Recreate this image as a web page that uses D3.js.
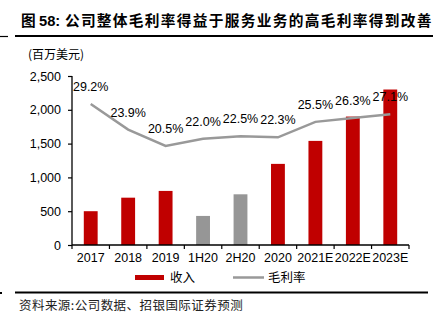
<!DOCTYPE html>
<html><head><meta charset="utf-8">
<script src="https://cdn.jsdelivr.net/npm/d3@7"></script>
<style>body{margin:0;background:#fff}svg{display:block}</style>
</head><body>
<svg id="c" width="439" height="329"></svg>
<script>
const categories = ["2017","2018","2019","1H20","2H20","2020","2021E","2022E","2023E"];
const revenue = [500, 700, 800, 430, 750, 1200, 1540, 1900, 2300];
const margin = [0.292, 0.239, 0.205, 0.220, 0.225, 0.223, 0.255, 0.263, 0.271];
const marginLabels = ["29.2%","23.9%","20.5%","22.0%","22.5%","22.3%","25.5%","26.3%","27.1%"];
const halfYear = ["1H20","2H20"];
const yTicks = [0, 500, 1000, 1500, 2000, 2500];
const title = "图 58: 公司整体毛利率得益于服务业务的高毛利率得到改善";
const unitLabel = "(百万美元)";
const legendLabels = ["收入", "毛利率"];
const source = "资料来源:公司数据、招银国际证券预测";

const svg = d3.select("#c");
const NUM = "'Liberation Sans', Arial, sans-serif";
const CJK = "'Noto Sans CJK SC', sans-serif";

// Title
const t = svg.append("text").attr("x", 21).attr("y", 26)
  .attr("font-weight", "bold").attr("font-size", 14.7).attr("fill", "#000");
t.append("tspan").attr("font-family", CJK).text("图 ");
t.append("tspan").attr("font-family", NUM).text("58:");
t.append("tspan").attr("font-family", CJK).attr("letter-spacing", 1.3).text(" " + title.slice(6));

svg.append("line").attr("x1", 0).attr("x2", 8).attr("y1", 36.5).attr("y2", 36.5).attr("stroke", "#000").attr("stroke-width", 1.2);
svg.append("line").attr("x1", 15).attr("x2", 433).attr("y1", 36).attr("y2", 36).attr("stroke", "#000").attr("stroke-width", 2);

// Scales
const x = d3.scaleBand().domain(categories).range([72, 409]).padding(0);
const y = d3.scaleLinear().domain([0, 2500]).range([245, 76]);
const y2 = d3.scaleLinear().domain([0, 0.35]).range([245, 76]);
const barW = x.bandwidth() * 0.37;

// Unit label
svg.append("text").attr("x", 28).attr("y", 59).attr("font-family", CJK)
  .attr("font-size", 12).attr("fill", "#000").text(unitLabel);

// Bars
svg.append("g").selectAll("rect").data(categories).join("rect")
  .attr("x", d => x(d) + x.bandwidth() / 2 - barW / 2)
  .attr("y", (d, i) => y(revenue[i]))
  .attr("width", barW)
  .attr("height", (d, i) => y(0) - y(revenue[i]))
  .attr("fill", d => halfYear.includes(d) ? "#969696" : "#C00000");

// Y axis
const yAxis = svg.append("g").attr("transform", "translate(72,0)")
  .call(d3.axisLeft(y).tickValues(yTicks).tickFormat(d3.format(",")).tickSize(4).tickPadding(7));
yAxis.select(".domain").attr("d", `M0,${y(2500)}V${y(0)}`).attr("stroke-width", 1.3);
yAxis.selectAll("text").attr("font-family", NUM).attr("font-size", 12.5).attr("fill", "#000");
yAxis.selectAll("line").attr("stroke-width", 1.2);

// X axis
const xAxis = svg.append("g").attr("transform", "translate(0,245)");
xAxis.append("line").attr("x1", 72).attr("x2", 409).attr("stroke", "#000").attr("stroke-width", 1.3);
const bounds = categories.map(d => x(d)).concat([x(categories[categories.length - 1]) + x.bandwidth()]);
xAxis.selectAll("line.tk").data(bounds).join("line").attr("class", "tk")
  .attr("x1", d => d).attr("x2", d => d).attr("y1", 0).attr("y2", 4)
  .attr("stroke", "#000").attr("stroke-width", 1.2);
xAxis.selectAll("text").data(categories).join("text")
  .attr("x", d => x(d) + x.bandwidth() / 2).attr("y", 17)
  .attr("text-anchor", "middle").attr("font-family", NUM).attr("font-size", 12.5)
  .attr("fill", "#000").text(d => d);

// Margin line
const line = d3.line().x((d, i) => x(categories[i]) + x.bandwidth() / 2).y(d => y2(d));
svg.append("path").datum(margin).attr("d", line).attr("fill", "none")
  .attr("stroke", "#999").attr("stroke-width", 2.5);
svg.append("g").selectAll("text").data(margin).join("text")
  .attr("x", (d, i) => x(categories[i]) + x.bandwidth() / 2)
  .attr("y", d => y2(d) - 13)
  .attr("text-anchor", "middle").attr("font-family", NUM).attr("font-size", 12.5)
  .attr("fill", "#000").text((d, i) => marginLabels[i]);

// Legend
svg.append("rect").attr("x", 135).attr("y", 275).attr("width", 29).attr("height", 5).attr("fill", "#C00000");
svg.append("text").attr("x", 170).attr("y", 282).attr("font-family", CJK).attr("font-size", 12.5)
  .attr("fill", "#000").text(legendLabels[0]);
svg.append("line").attr("x1", 233).attr("x2", 264).attr("y1", 277.5).attr("y2", 277.5)
  .attr("stroke", "#999").attr("stroke-width", 2.5);
svg.append("text").attr("x", 268).attr("y", 282).attr("font-family", CJK).attr("font-size", 12.5)
  .attr("fill", "#000").text(legendLabels[1]);

// Bottom rule and source
svg.append("rect").attr("x", 0).attr("y", 292).attr("width", 2).attr("height", 2).attr("fill", "#000");
svg.append("line").attr("x1", 15).attr("x2", 428).attr("y1", 292.5).attr("y2", 292.5).attr("stroke", "#000").attr("stroke-width", 2);
svg.append("text").attr("x", 19).attr("y", 310).attr("font-family", CJK).attr("font-size", 12.5)
  .attr("letter-spacing", 0.45).attr("fill", "#222").text(source);
</script>
</body></html>
